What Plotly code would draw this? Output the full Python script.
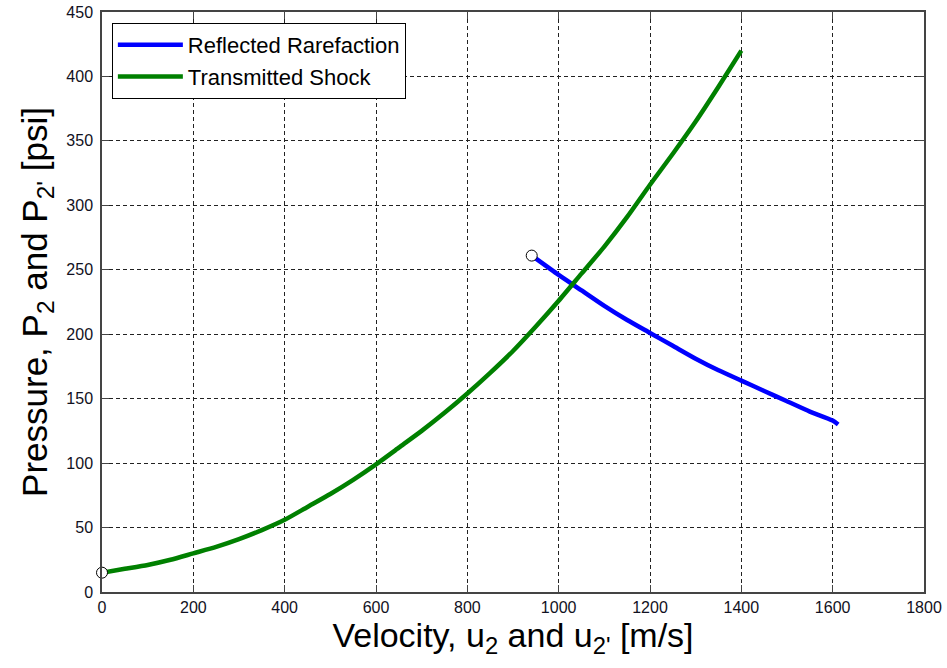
import plotly.graph_objects as go

# Transmitted shock (green)
shock_u = [0, 50, 100, 150, 200, 250, 300, 350, 400, 450, 500, 550, 600, 650, 700,
           750, 800, 850, 900, 950, 1000, 1050, 1100, 1150, 1200, 1250, 1300, 1350, 1400]
shock_p = [15, 18, 21, 25, 30, 35, 41, 48, 56, 66, 76, 87, 99, 112, 125,
           139, 154, 170, 187, 206, 226, 247, 268, 291, 316, 340, 365, 392, 420]

# Reflected rarefaction (blue)
raref_u = [945, 1000, 1050, 1100, 1150, 1200, 1250, 1300, 1350, 1400, 1450, 1500, 1550, 1600, 1612]
raref_p = [260, 246, 234, 222, 211, 201, 191, 181, 172, 164, 156, 148, 140, 133, 130]

# Start points (open circles)
start_u = [0, 941]
start_p = [15, 261]

xticks = [0, 200, 400, 600, 800, 1000, 1200, 1400, 1600, 1800]
yticks = [0, 50, 100, 150, 200, 250, 300, 350, 400, 450]

FONT = "Liberation Sans, Arial, sans-serif"

fig = go.Figure()
fig.add_trace(go.Scatter(x=raref_u, y=raref_p, mode="lines", name="Reflected Rarefaction",
                         line=dict(color="#0000FF", width=4.5, shape="spline", smoothing=0.6)))
fig.add_trace(go.Scatter(x=shock_u, y=shock_p, mode="lines", name="Transmitted Shock",
                         line=dict(color="#008000", width=4.5, shape="spline", smoothing=0.6)))
fig.add_trace(go.Scatter(x=start_u, y=start_p, mode="markers", showlegend=False,
                         marker=dict(symbol="circle", size=11, color="white",
                                     line=dict(color="black", width=1)),
                         cliponaxis=False))

axis_common = dict(
    showgrid=True, gridcolor="#222222", griddash="4px,3px", gridwidth=1,
    showline=True, linecolor="#444444", linewidth=1.5, mirror="ticks",
    ticks="inside", ticklen=7, tickcolor="#444444", tickwidth=1,
    zeroline=False, automargin=False,
    tickfont=dict(family=FONT, size=16, color="#111122"),
)

fig.update_xaxes(range=[0, 1800], tickvals=xticks, ticktext=[str(v) for v in xticks],
                 title=dict(text="Velocity, u<sub>2</sub> and u<sub>2'</sub> [m/s]",
                            font=dict(family=FONT, size=34, color="black"), standoff=6),
                 **axis_common)
fig.update_yaxes(range=[0, 450], tickvals=yticks, ticktext=[str(v) for v in yticks],
                 ticklabelstandoff=4,
                 title=dict(text="Pressure, P<sub>2</sub> and P<sub>2'</sub> [psi]",
                            font=dict(family=FONT, size=35, color="black"), standoff=8),
                 **axis_common)

fig.update_layout(
    width=947, height=668,
    margin=dict(l=102, r=23, t=12, b=76, autoexpand=False),
    paper_bgcolor="white", plot_bgcolor="white",
    font=dict(family=FONT),
    legend=dict(x=0.012, y=0.981, xanchor="left", yanchor="top",
                bgcolor="white", bordercolor="black", borderwidth=1,
                font=dict(family=FONT, size=22, color="black"),
                tracegroupgap=0, itemwidth=65),
)

fig.write_html("out.html")
